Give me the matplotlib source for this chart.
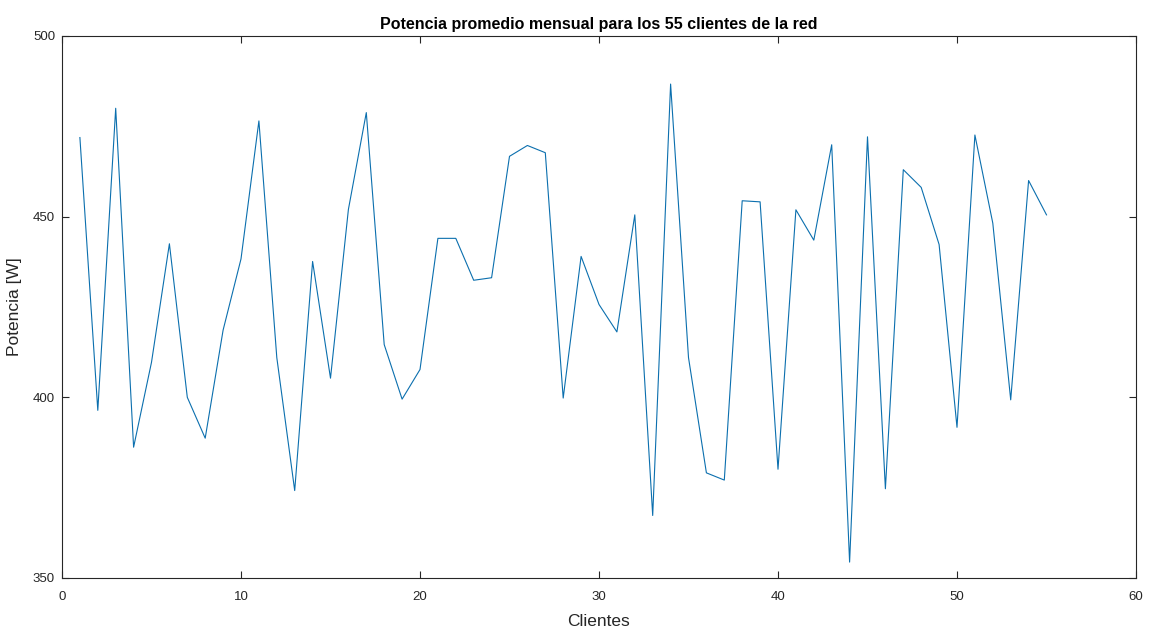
import matplotlib
matplotlib.use("Agg")
import matplotlib.pyplot as plt

clientes = list(range(1, 56))
potencia = [471.9, 396.4, 480.0, 386.2, 409.7, 442.5, 400.0, 388.7, 418.6, 438.3,
            476.5, 411.0, 374.2, 437.6, 405.3, 452.0, 478.8, 414.6, 399.5, 407.7,
            444.0, 444.0, 432.4, 433.1, 466.7, 469.7, 467.7, 399.8, 439.0, 425.7,
            418.1, 450.5, 367.3, 486.7, 411.0, 379.1, 377.1, 454.4, 454.1, 380.1,
            451.9, 443.5, 469.9, 354.4, 472.1, 374.7, 463.0, 458.1, 442.3, 391.7,
            472.6, 448.2, 399.3, 460.0, 450.5]
xticks = [0, 10, 20, 30, 40, 50, 60]
yticks = [350, 400, 450, 500]

plt.rcParams['font.family'] = ['Liberation Sans', 'DejaVu Sans']
fig = plt.figure(figsize=(11.62, 6.27), dpi=100)
ax = fig.add_axes([62/1162, 49/627, (1136-62)/1162, (578-36)/627])
ax.plot(clientes, potencia, color='#0B6FAE', linewidth=0.8)
ax.set_xlim(0, 60)
ax.set_ylim(350, 500)
ax.set_xticks(xticks)
ax.set_yticks(yticks)
gray = '#262626'
for s in ax.spines.values():
    s.set_color(gray)
    s.set_linewidth(0.8)
ax.tick_params(direction='in', top=True, right=True, length=5, width=0.8,
               colors=gray, labelsize=9.5)
ax.tick_params(axis='x', pad=9)
ax.tick_params(axis='y', pad=5)
ax.set_title('Potencia promedio mensual para los 55 clientes de la red',
             fontsize=11.5, fontweight='bold', color='black', pad=5)
ax.set_xlabel('Clientes', fontsize=12.5, color=gray, labelpad=8)
ax.set_ylabel('Potencia [W]', fontsize=12.5, color=gray, labelpad=8)
fig.savefig('out.png', dpi=100)
